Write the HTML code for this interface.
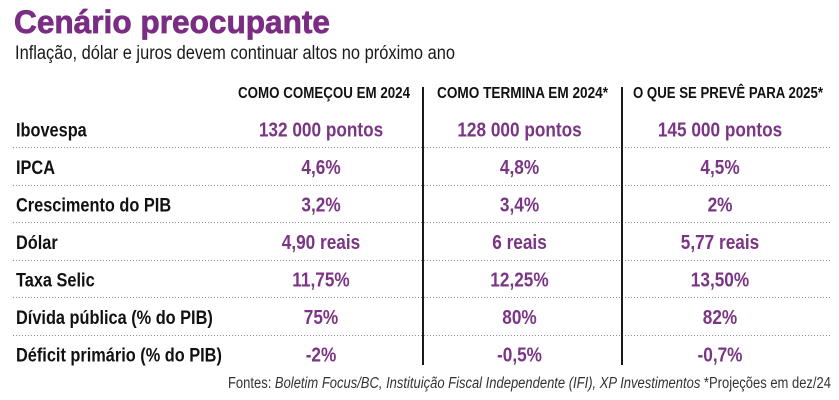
<!DOCTYPE html>
<html><head><meta charset="utf-8">
<style>
html,body{margin:0;padding:0;background:#fff;}
svg{display:block;}
text{font-family:"Liberation Sans","DejaVu Sans",sans-serif;}
.lab{font-weight:bold;font-size:19px;fill:#111;}
.val{font-weight:bold;font-size:20.5px;fill:#7b3585;}
.hd{font-weight:bold;font-size:16px;fill:#111;}
</style></head>
<body>
<svg width="839" height="400" viewBox="0 0 839 400" xmlns="http://www.w3.org/2000/svg">
<rect width="839" height="400" fill="#fff"/>
<text x="14" y="33" font-size="32" font-weight="bold" fill="#7a2d82" stroke="#7a2d82" stroke-width="0.7" textLength="316" lengthAdjust="spacingAndGlyphs">Cenário preocupante</text>
<text x="15" y="59" font-size="19" fill="#1a1a1a" textLength="440" lengthAdjust="spacingAndGlyphs">Inflação, dólar e juros devem continuar altos no próximo ano</text>

<text class="hd" x="238" y="98" textLength="172" lengthAdjust="spacingAndGlyphs">COMO COMEÇOU EM 2024</text>
<text class="hd" x="437" y="98" textLength="171" lengthAdjust="spacingAndGlyphs">COMO TERMINA EM 2024*</text>
<text class="hd" x="633" y="98" textLength="190" lengthAdjust="spacingAndGlyphs">O QUE SE PREVÊ PARA 2025*</text>

<g stroke="#8a8a8a" stroke-width="1" stroke-dasharray="1 2">
<line x1="13" y1="147.5" x2="830" y2="147.5"/>
<line x1="13" y1="185.5" x2="830" y2="185.5"/>
<line x1="13" y1="222.5" x2="830" y2="222.5"/>
<line x1="13" y1="260.5" x2="830" y2="260.5"/>
<line x1="13" y1="297.5" x2="830" y2="297.5"/>
<line x1="13" y1="335.5" x2="830" y2="335.5"/>
</g>
<g stroke="#1a1a1a" stroke-width="2">
<line x1="423" y1="87" x2="423" y2="365"/>
<line x1="622" y1="87" x2="622" y2="365"/>
</g>

<g>
<text class="lab" transform="translate(16,136.5) scale(0.86,1)">Ibovespa</text>
<text class="lab" transform="translate(16,174) scale(0.86,1)">IPCA</text>
<text class="lab" transform="translate(16,211.5) scale(0.86,1)">Crescimento do PIB</text>
<text class="lab" transform="translate(16,249) scale(0.86,1)">Dólar</text>
<text class="lab" transform="translate(16,286.5) scale(0.86,1)">Taxa Selic</text>
<text class="lab" transform="translate(16,324) scale(0.86,1)">Dívida pública (% do PIB)</text>
<text class="lab" transform="translate(16,361.5) scale(0.86,1)">Déficit primário (% do PIB)</text>
</g>

<g text-anchor="middle">
<text class="val" transform="translate(321,136.5) scale(0.84,1)">132 000 pontos</text>
<text class="val" transform="translate(519.5,136.5) scale(0.84,1)">128 000 pontos</text>
<text class="val" transform="translate(720,136.5) scale(0.84,1)">145 000 pontos</text>

<text class="val" transform="translate(321,174) scale(0.84,1)">4,6%</text>
<text class="val" transform="translate(519.5,174) scale(0.84,1)">4,8%</text>
<text class="val" transform="translate(720,174) scale(0.84,1)">4,5%</text>

<text class="val" transform="translate(321,211.5) scale(0.84,1)">3,2%</text>
<text class="val" transform="translate(519.5,211.5) scale(0.84,1)">3,4%</text>
<text class="val" transform="translate(720,211.5) scale(0.84,1)">2%</text>

<text class="val" transform="translate(321,249) scale(0.84,1)">4,90 reais</text>
<text class="val" transform="translate(519.5,249) scale(0.84,1)">6 reais</text>
<text class="val" transform="translate(720,249) scale(0.84,1)">5,77 reais</text>

<text class="val" transform="translate(321,286.5) scale(0.84,1)">11,75%</text>
<text class="val" transform="translate(519.5,286.5) scale(0.84,1)">12,25%</text>
<text class="val" transform="translate(720,286.5) scale(0.84,1)">13,50%</text>

<text class="val" transform="translate(321,324) scale(0.84,1)">75%</text>
<text class="val" transform="translate(519.5,324) scale(0.84,1)">80%</text>
<text class="val" transform="translate(720,324) scale(0.84,1)">82%</text>

<text class="val" transform="translate(321,361.5) scale(0.84,1)">-2%</text>
<text class="val" transform="translate(519.5,361.5) scale(0.84,1)">-0,5%</text>
<text class="val" transform="translate(720,361.5) scale(0.84,1)">-0,7%</text>
</g>

<text x="228" y="388" font-size="15.5" fill="#333" textLength="603" lengthAdjust="spacingAndGlyphs">Fontes: <tspan font-style="italic">Boletim Focus/BC, Instituição Fiscal Independente (IFI), XP Investimentos</tspan>  *Projeções em dez/24</text>
</svg>
</body></html>
